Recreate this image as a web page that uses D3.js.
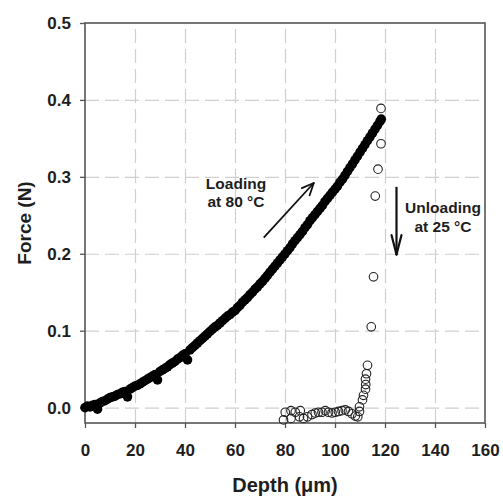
<!DOCTYPE html>
<html>
<head>
<meta charset="utf-8">
<script src="https://cdn.jsdelivr.net/npm/d3@7"></script>
<style>
  html, body { margin: 0; padding: 0; background: #fff; }
  svg { display: block; font-family: "Liberation Sans", Arial, sans-serif; }
  .tick text { font-size: 17px; font-weight: bold; fill: #1e1e1e; }
  .tick line { stroke: #555; stroke-width: 1.3; }
  .grid .tick line { stroke: #d0d0d0; stroke-width: 1.2; stroke-dasharray: 14 6; }
  .grid .domain { display: none; }
  .title { font-size: 19px; font-weight: bold; fill: #1e1e1e; }
  .note { font-size: 15.5px; font-weight: bold; fill: #1e1e1e; }
</style>
</head>
<body>
<div id="chart"></div>
<script>
// Loading at 80 °C (filled circles): depth in µm, force in N
const loadDepth = [
  0, 1, 2, 3, 4, 5, 6, 7, 8, 9,
  10, 11, 12, 13, 14, 15, 16, 17, 18, 19,
  20, 21, 22, 23, 24, 25, 26, 27, 28, 29,
  30, 31, 32, 33, 34, 35, 36, 37, 38, 39,
  40, 41, 42, 43, 44, 45, 46, 47, 48, 49,
  50, 51, 52, 53, 54, 55, 56, 57, 58, 59,
  60, 61, 62, 63, 64, 65, 66, 67, 68, 69,
  70, 71, 72, 73, 74, 75, 76, 77, 78, 79,
  80, 81, 82, 83, 84, 85, 86, 87, 88, 89,
  90, 91, 92, 93, 94, 95, 96, 97, 98, 99,
  100, 101, 102, 103, 104, 105, 106, 107, 108, 109,
  110, 111, 112, 113, 114, 115, 116, 117, 118, 118.5
];
const loadForce = [
  0.000, 0.002, 0.001, 0.003, 0.004, -0.002, 0.006, 0.008, 0.009, 0.011,
  0.013, 0.014, 0.015, 0.017, 0.018, 0.020, 0.021, 0.014, 0.024, 0.026,
  0.028, 0.029, 0.031, 0.033, 0.035, 0.037, 0.039, 0.041, 0.043, 0.036,
  0.047, 0.049, 0.051, 0.053, 0.056, 0.058, 0.060, 0.063, 0.065, 0.068,
  0.070, 0.062, 0.075, 0.078, 0.081, 0.084, 0.087, 0.090, 0.093, 0.096,
  0.099, 0.102, 0.105, 0.107, 0.110, 0.113, 0.116, 0.119, 0.121, 0.124,
  0.126, 0.130, 0.133, 0.137, 0.140, 0.143, 0.147, 0.150, 0.154, 0.157,
  0.161, 0.164, 0.168, 0.172, 0.176, 0.180, 0.184, 0.188, 0.192, 0.196,
  0.200, 0.204, 0.208, 0.213, 0.217, 0.221, 0.225, 0.229, 0.234, 0.238,
  0.243, 0.247, 0.251, 0.255, 0.259, 0.263, 0.268, 0.272, 0.276, 0.280,
  0.284, 0.288, 0.293, 0.297, 0.302, 0.307, 0.312, 0.317, 0.322, 0.327,
  0.332, 0.337, 0.342, 0.347, 0.352, 0.357, 0.362, 0.367, 0.372, 0.375
];

// Unloading at 25 °C (open circles)
const unloadDepth = [
  118.4, 118.4, 117.2, 116.1, 115.4, 114.5, 113.0, 112.6, 112.2, 112.3,
  112.2, 111.4, 111.0, 109.8, 109.8, 109.1, 108.1, 106.8, 105.4, 104.1,
  102.8, 101.4, 100.1, 98.8, 97.4, 96.1, 94.8, 93.4, 92.1, 90.8,
  89.0, 87.4, 85.8, 86.1, 84.1, 82.4, 82.4, 80.1, 79.4
];
const unloadForce = [
  0.389, 0.343, 0.310, 0.275, 0.170, 0.105, 0.055, 0.044, 0.037, 0.030,
  0.024, 0.016, 0.010, 0.001, -0.005, -0.012, -0.011, -0.008, -0.005, -0.003,
  -0.004, -0.005, -0.006, -0.007, -0.006, -0.004, -0.006, -0.006, -0.007, -0.009,
  -0.012, -0.014, -0.012, -0.004, -0.006, -0.014, -0.004, -0.006, -0.016
];

const xTicks = [0, 20, 40, 60, 80, 100, 120, 140, 160];
const yTicks = [0.0, 0.1, 0.2, 0.3, 0.4, 0.5];

const W = 503, H = 498;
const L = 85, R = 485, T = 23, B = 423;

const svg = d3.select("#chart").append("svg")
  .attr("width", W).attr("height", H);

const x = d3.scaleLinear().domain([0, 160]).range([L, R]);
const y = d3.scaleLinear().domain([-0.02, 0.5]).range([B, T]);

// dashed grid (inner lines only)
svg.append("g").attr("class", "grid")
  .attr("transform", `translate(0,${B})`)
  .call(d3.axisBottom(x).tickValues(xTicks.slice(1, -1)).tickSize(-(B - T)).tickFormat(""));
svg.append("g").attr("class", "grid")
  .attr("transform", `translate(${L},0)`)
  .call(d3.axisLeft(y).tickValues(yTicks.slice(0, -1)).tickSize(-(R - L)).tickFormat(""));

// frame
svg.append("rect").attr("x", L).attr("y", T)
  .attr("width", R - L).attr("height", B - T)
  .attr("fill", "none").attr("stroke", "#555").attr("stroke-width", 1.6);

const xAxis = svg.append("g")
  .attr("transform", `translate(0,${B})`)
  .call(d3.axisBottom(x).tickValues(xTicks).tickSize(5).tickPadding(16));
xAxis.select(".domain").remove();

const yAxis = svg.append("g")
  .attr("transform", `translate(${L},0)`)
  .call(d3.axisLeft(y).tickValues(yTicks).tickSize(5).tickPadding(9).tickFormat(d3.format(".1f")));
yAxis.select(".domain").remove();

// axis titles
svg.append("text").attr("class", "title")
  .attr("x", (L + R) / 2).attr("y", 492).style("font-size", "20px")
  .attr("text-anchor", "middle").text("Depth (\u03bcm)");
svg.append("text").attr("class", "title")
  .attr("transform", `translate(31,${(T + B) / 2}) rotate(-90)`)
  .attr("text-anchor", "middle").text("Force (N)");

// loading points
svg.append("g").selectAll("circle")
  .data(d3.range(loadDepth.length)).enter().append("circle")
  .attr("cx", i => x(loadDepth[i])).attr("cy", i => y(loadForce[i]))
  .attr("r", 4.8).attr("fill", "#000");

// unloading points
svg.append("g").selectAll("circle")
  .data(d3.range(unloadDepth.length)).enter().append("circle")
  .attr("cx", i => x(unloadDepth[i])).attr("cy", i => y(unloadForce[i]))
  .attr("r", 4.3).attr("fill", "none").attr("stroke", "#222").attr("stroke-width", 1.1);

// annotations
function arrow(x1, y1, x2, y2, head, sp, w) {
  const a = Math.atan2(y2 - y1, x2 - x1);
  svg.append("line").attr("x1", x1).attr("y1", y1).attr("x2", x2).attr("y2", y2)
    .attr("stroke", "#111").attr("stroke-width", w);
  [a + Math.PI - sp, a + Math.PI + sp].forEach(b => {
    svg.append("line").attr("x1", x2).attr("y1", y2)
      .attr("x2", x2 + head * Math.cos(b)).attr("y2", y2 + head * Math.sin(b))
      .attr("stroke", "#111").attr("stroke-width", w).attr("stroke-linecap", "round");
  });
}

const noteLoad = svg.append("text").attr("class", "note").attr("text-anchor", "middle");
noteLoad.append("tspan").attr("x", 236).attr("y", 189).text("Loading");
noteLoad.append("tspan").attr("x", 236).attr("y", 207).text("at 80 \u00b0C");
arrow(x(71.5), y(0.221), x(91.5), y(0.292), 13, 0.42, 1.8);

const noteUn = svg.append("text").attr("class", "note").attr("text-anchor", "middle");
noteUn.append("tspan").attr("x", 443).attr("y", 213).text("Unloading");
noteUn.append("tspan").attr("x", 443).attr("y", 232).text("at 25 \u00b0C");
arrow(x(124.6), y(0.287), x(124.6), y(0.199), 20, 0.25, 2.2);
</script>
</body>
</html>
